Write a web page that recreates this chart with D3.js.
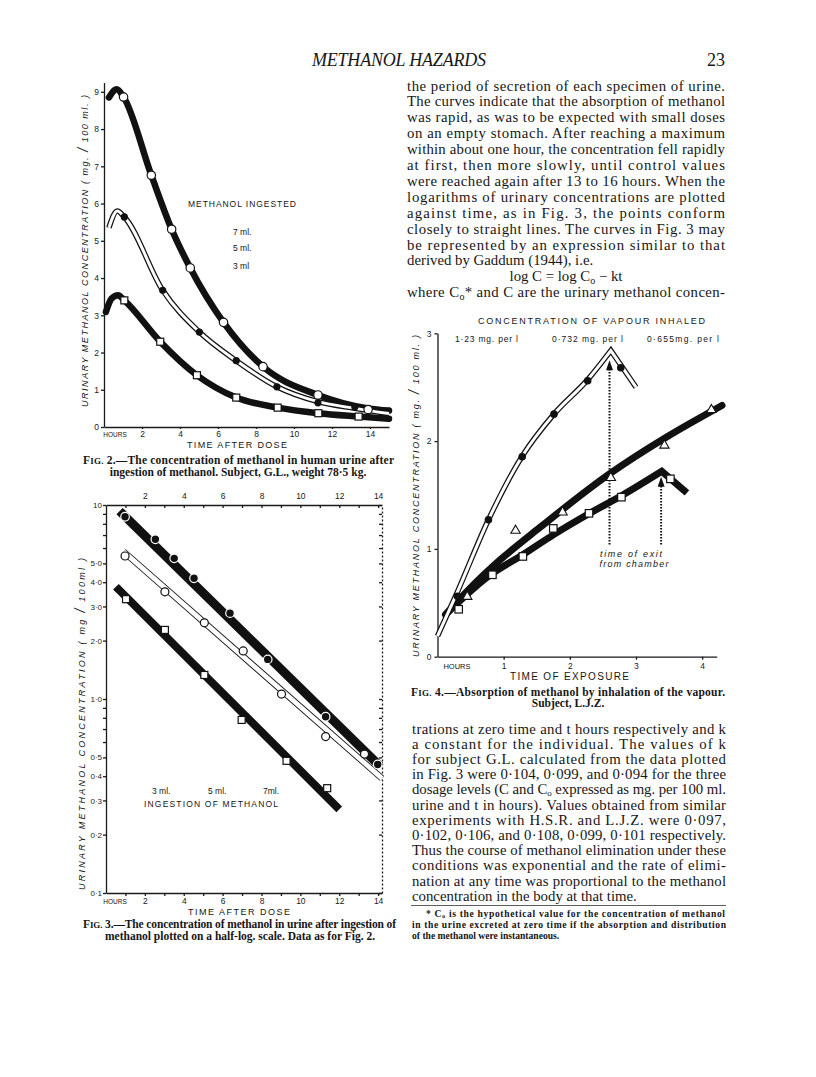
<!DOCTYPE html>
<html>
<head>
<meta charset="utf-8">
<script src="https://cdn.jsdelivr.net/npm/d3@7"></script>
<style>
body{margin:0;background:#fff}
text{fill:#161616}
.serif{font-family:"Liberation Serif","Times New Roman",serif}
.sans{font-family:"Liberation Sans",Arial,sans-serif}
.axis path,.axis line{stroke:#1a1a1a;stroke-width:1.3}
.axis text{font-family:"Liberation Sans",Arial,sans-serif;font-size:8.5px;fill:#1a1a1a}
</style>
</head>
<body>
<svg id="page" width="816" height="1077"></svg>
<script>
// fig 2 - linear scale, concentration mg/100ml vs hours after dose
var fig2Hours7 = [1.03, 2.49, 3.56, 4.54, 6.29, 8.37, 11.26, 13.9]
var fig2Conc7 = [8.86, 6.76, 5.31, 4.27, 2.81, 1.62, 0.86, 0.47]
var fig2Hours5 = [1.07, 3.09, 5.02, 6.96, 9.1, 11.26, 13.2]
var fig2Conc5 = [5.64, 3.67, 2.55, 1.78, 1.08, 0.65, 0.54]
var fig2Hours3 = [1.07, 2.96, 4.89, 6.96, 9.14, 11.28, 13.4]
var fig2Conc3 = [3.40, 2.29, 1.39, 0.79, 0.52, 0.37, 0.28]
// drawn curves
var fig2CurveHours7 = [0.26, 0.67, 1.03, 2.49, 3.56, 4.54, 6.29, 8.37, 11.26, 13.9, 15]
var fig2CurveConc7 = [8.85, 9.07, 8.86, 6.76, 5.31, 4.27, 2.81, 1.62, 0.86, 0.5, 0.44]
var fig2CurveHours5 = [0.26, 0.7, 1.07, 3.09, 5.02, 6.96, 9.1, 11.26, 13.2, 15]
var fig2CurveConc5 = [5.35, 5.8, 5.64, 3.67, 2.55, 1.78, 1.08, 0.68, 0.5, 0.36]
var fig2CurveHours3 = [0.1, 0.4, 0.74, 1.07, 2.96, 4.89, 6.96, 9.14, 11.28, 13.4, 15]
var fig2CurveConc3 = [3.09, 3.45, 3.54, 3.40, 2.29, 1.39, 0.79, 0.52, 0.37, 0.28, 0.22]
var fig2YTicks = [0, 1, 2, 3, 4, 5, 6, 7, 8, 9]
var fig2XTicks = [2, 4, 6, 8, 10, 12, 14]

// fig 3 - half-log
var fig3Hours7 = [0.98, 2.54, 3.51, 4.53, 6.38, 8.32, 11.3, 13.98]
var fig3Conc7 = [8.7, 6.66, 5.31, 4.19, 2.77, 1.60, 0.81, 0.46]
var fig3Hours5 = [0.98, 3.03, 5.06, 7.06, 9.03, 11.3, 13.3]
var fig3Conc5 = [5.46, 3.57, 2.47, 1.77, 1.06, 0.64, 0.52]
var fig3Hours3 = [1.03, 3.03, 5.06, 6.98, 9.29, 11.38]
var fig3Conc3 = [3.27, 2.27, 1.33, 0.78, 0.48, 0.347]
var fig3LineHours7 = [0.7, 14.1]
var fig3LineConc7 = [9.3, 0.45]
var fig3LineHours5 = [0.9, 14.2]
var fig3LineConc5 = [5.75, 0.39]
var fig3LineHours3 = [0.51, 12.0]
var fig3LineConc3 = [3.79, 0.27]
var fig3YLabels = [10, 5, 4, 3, 2, 1, 0.5, 0.4, 0.3, 0.2, 0.1]
var fig3YLabelText = ['10', '5·0', '4·0', '3·0', '2·0', '1·0', '0·5', '0·4', '0·3', '0·2', '0·1']

// fig 4 - inhalation
var fig4Hours123 = [0.30, 0.77, 1.28, 1.76, 2.27, 2.77]
var fig4Conc123 = [0.56, 1.27, 1.855, 2.25, 2.56, 2.68]
var fig4Hours732 = [0.45, 1.18, 1.89, 2.62, 3.43, 4.14]
var fig4Conc732 = [0.557, 1.17, 1.34, 1.66, 1.96, 2.29]
var fig4Hours655 = [0.32, 0.83, 1.29, 1.75, 2.29, 2.78, 3.52]
var fig4Conc655 = [0.44, 0.76, 0.93, 1.19, 1.33, 1.48, 1.65]
var fig4RiseHours123 = [0, 0.3, 0.77, 1.28, 1.76, 2.27, 2.62]
var fig4RiseConc123 = [0.19, 0.6, 1.27, 1.86, 2.25, 2.57, 2.84]
var fig4FallHours123 = [2.62, 3.0]
var fig4FallConc123 = [2.84, 2.5]
var fig4CurveHours732 = [0.12, 0.5, 0.95, 1.55, 2.61, 3.47, 4.3]
var fig4CurveConc732 = [0.39, 0.64, 0.9, 1.2, 1.70, 2.04, 2.33]
var fig4RiseHours655 = [0.12, 0.8, 1.3, 1.75, 2.3, 2.8, 3.39]
var fig4RiseConc655 = [0.39, 0.76, 0.95, 1.13, 1.33, 1.5, 1.72]
var fig4FallHours655 = [3.39, 3.77]
var fig4FallConc655 = [1.72, 1.52]
var fig4ExitHours = [2.6, 3.38]
var fig4ExitFrom = [1.04, 1.04]
var fig4ExitTo = [2.75, 1.67]
var fig4XTicks = [1, 2, 3, 4]
var fig4YTicks = [0, 1, 2, 3]

var topLines = [
    "the period of secretion of each specimen of urine.",
    "The curves indicate that the absorption of methanol",
    "was rapid, as was to be expected with small doses",
    "on an empty stomach.  After reaching a maximum",
    "within about one hour, the concentration fell rapidly",
    "at first, then more slowly, until control values",
    "were reached again after 13 to 16 hours.  When the",
    "logarithms of urinary concentrations are plotted",
    "against time, as in Fig. 3, the points conform",
    "closely to straight lines.  The curves in Fig. 3 may",
    "be represented by an expression similar to that",
    "derived by Gaddum (1944), i.e.",
    "log C = log C_o \u2212 kt",
    "where C_o* and C are the urinary methanol concen-"
]
var bottomLines = [
    "trations at zero time and t hours respectively and k",
    "a constant for the individual.  The values of k",
    "for subject G.L. calculated from the data plotted",
    "in Fig. 3 were 0\u00b7104, 0\u00b7099, and 0\u00b7094 for the three",
    "dosage levels (C and C_o expressed as mg. per 100 ml.",
    "urine and t in hours).   Values obtained from similar",
    "experiments with H.S.R. and L.J.Z. were 0\u00b7097,",
    "0\u00b7102, 0\u00b7106, and 0\u00b7108, 0\u00b7099, 0\u00b7101 respectively.",
    "Thus the course of methanol elimination under these",
    "conditions was exponential and the rate of elimi-",
    "nation at any time was proportional to the methanol",
    "concentration in the body at that time."
]
var footLines = [
    "* C_o is the hypothetical value for the concentration of methanol",
    "in the urine excreted at zero time if the absorption and distribution",
    "of the methanol were instantaneous."
]

var page = d3.select('#page')

function addLine(g, str, x, y, size, width, subSize, drop){
    var t = g.append('text').attr('class', 'serif').attr('x', x).attr('y', y).style('font-size', size + 'px')
    var parts = str.split('_o')
    parts.forEach(function(p, i){
        if(i > 0){
            t.append('tspan').attr('dy', drop).style('font-size', subSize + 'px').text('o')
            t.append('tspan').attr('dy', -drop).text(p)
        }
        else{
            t.append('tspan').text(p)
        }
    })
    if(width){
        t.attr('textLength', width).attr('lengthAdjust', 'spacing')
    }
    return t
}

function caption(num, rest, x, y, width){
    var t = page.append('text').attr('class', 'serif').attr('x', x).attr('y', y)
        .style('font-size', '11.5px').style('font-weight', 'bold')
    t.append('tspan').text('F')
    t.append('tspan').style('font-size', '9px').text('IG.')
    t.append('tspan').text(' ' + num + '.\u2014' + rest)
    if(width) t.attr('textLength', width).attr('lengthAdjust', 'spacing')
}

function sansText(x, y, str, size, len, anchor){
    var t = page.append('text').attr('class', 'sans').attr('x', x).attr('y', y)
        .style('font-size', size + 'px').attr('text-anchor', anchor || 'start').text(str)
    if(len) t.attr('textLength', len).attr('lengthAdjust', 'spacing')
    return t
}

function yTitle(x, cy, len, unit){
    var t = page.append('text').attr('class', 'sans')
        .attr('transform', 'translate(' + x + ',' + cy + ') rotate(-90)')
        .attr('text-anchor', 'middle').style('font-size', '9px').style('font-style', 'italic')
        .attr('textLength', len).attr('lengthAdjust', 'spacing')
    t.append('tspan').text('URINARY   METHANOL   CONCENTRATION   ( ' + unit[0] + ' ')
    t.append('tspan').style('font-size', '14px').text('/')
    t.append('tspan').text(' ' + unit[1] + ' )')
}

function pts(a, b){
    return d3.zip(a, b)
}

function heavyPath(g, d, w){
    return g.append('path').attr('d', d).attr('fill', 'none').attr('stroke', '#111')
        .attr('stroke-width', w).attr('stroke-linecap', 'round').attr('stroke-linejoin', 'round')
}

function doublePath(g, d, outer, inner){
    heavyPath(g, d, outer).attr('stroke-linecap', 'butt').attr('stroke-linejoin', 'miter')
    g.append('path').attr('d', d).attr('fill', 'none').attr('stroke', '#fff')
        .attr('stroke-width', inner).attr('stroke-linejoin', 'miter')
}

function openCircles(g, data, x, y, r){
    g.selectAll(null).data(data).enter().append('circle')
        .attr('cx', function(d){return x(d[0])}).attr('cy', function(d){return y(d[1])})
        .attr('r', r).attr('fill', '#fff').attr('stroke', '#111').attr('stroke-width', 1.2)
}

function dots(g, data, x, y, r, ring){
    g.selectAll(null).data(data).enter().append('circle')
        .attr('cx', function(d){return x(d[0])}).attr('cy', function(d){return y(d[1])})
        .attr('r', r).attr('fill', '#111').attr('stroke', ring ? '#fff' : 'none').attr('stroke-width', 1.2)
}

function squares(g, data, x, y, s){
    g.selectAll(null).data(data).enter().append('rect')
        .attr('x', function(d){return x(d[0]) - s/2}).attr('y', function(d){return y(d[1]) - s/2})
        .attr('width', s).attr('height', s).attr('fill', '#fff').attr('stroke', '#111').attr('stroke-width', 1.2)
}

function triangles(g, data, x, y, size){
    g.selectAll(null).data(data).enter().append('path')
        .attr('d', d3.symbol(d3.symbolTriangle).size(size))
        .attr('transform', function(d){return 'translate(' + x(d[0]) + ',' + y(d[1]) + ')'})
        .attr('fill', '#fff').attr('stroke', '#111').attr('stroke-width', 1.1)
}

// header
page.append('text').attr('class', 'serif').attr('x', 399).attr('y', 66).attr('text-anchor', 'middle')
    .style('font-size', '18px').style('font-style', 'italic').attr('textLength', 174).text('METHANOL HAZARDS')
page.append('text').attr('class', 'serif').attr('x', 725).attr('y', 66).attr('text-anchor', 'end')
    .style('font-size', '18px').text('23')

// right column text
topLines.forEach(function(l, i){
    var y = 90.5 + i * 15.9
    if(i == 12){
        addLine(page, l, 566, y, 14.8, null, 10, 2.5).attr('text-anchor', 'middle')
    }
    else{
        addLine(page, l, 407, y, 14.8, i == 11 ? null : 318, 10, 2.5)
    }
})
bottomLines.forEach(function(l, i){
    addLine(page, l, 412, 733.5 + i * 15.2, 14.8, i == bottomLines.length - 1 ? null : 314, 9, 1.5)
})
page.append('line').attr('x1', 411).attr('x2', 726).attr('y1', 905.5).attr('y2', 905.5).attr('stroke', '#333').attr('stroke-width', 0.8)
footLines.forEach(function(l, i){
    var fx = i == 0 ? 426 : 412
    var w = i == 0 ? 299 : (i == 1 ? 314 : null)
    addLine(page, l, fx, 917 + i * 10.8, 9.6, w, 6.5, 1).style('font-weight', 'bold')
})

// ---------------- FIG 2 ----------------
var x2 = d3.scaleLinear().domain([0, 15]).range([104, 389])
var y2 = d3.scaleLinear().domain([0, 9.25]).range([427, 82.5])
var g2 = page.append('g')
var curve2 = d3.line().x(function(d){return x2(d[0])}).y(function(d){return y2(d[1])}).curve(d3.curveMonotoneX)

g2.append('g').attr('class', 'axis').attr('transform', 'translate(104,0)')
    .call(d3.axisLeft(y2).tickValues(fig2YTicks).tickSize(3).tickSizeOuter(0).tickPadding(2))
g2.append('g').attr('class', 'axis').attr('transform', 'translate(0,427)')
    .call(d3.axisBottom(x2).tickValues(fig2XTicks).tickSize(2).tickSizeOuter(0).tickPadding(2))
sansText(115, 436.5, 'HOURS', 6.5, null, 'middle')
sansText(187, 448, 'TIME   AFTER   DOSE', 9, 100)
yTitle(88, 251, 312, ['mg.', '100 ml.'])

heavyPath(g2, curve2(pts(fig2CurveHours3, fig2CurveConc3)), 6.5)
heavyPath(g2, curve2(pts(fig2CurveHours7, fig2CurveConc7)), 6.5)
doublePath(g2, curve2(pts(fig2CurveHours5, fig2CurveConc5)), 5.5, 3)
openCircles(g2, pts(fig2Hours7, fig2Conc7), x2, y2, 4.2)
dots(g2, pts(fig2Hours5, fig2Conc5), x2, y2, 3.6)
squares(g2, pts(fig2Hours3, fig2Conc3), x2, y2, 7)

sansText(188, 207, 'METHANOL   INGESTED', 8.5, 108)
sansText(233, 235, '7 ml.', 8.5)
sansText(233, 251, '5 ml.', 8.5)
sansText(233, 269, '3 ml', 8.5)

caption(2, 'The concentration of methanol in human urine after', 83, 464, 311)
page.append('text').attr('class', 'serif').attr('x', 238).attr('y', 475.5).attr('text-anchor', 'middle')
    .style('font-size', '11.5px').style('font-weight', 'bold')
    .text('ingestion of methanol.  Subject, G.L., weight 78\u00b75 kg.')

// ---------------- FIG 3 ----------------
var x3 = d3.scaleLinear().domain([0, 14.2]).range([106, 382])
var y3 = d3.scaleLog().domain([0.1, 10]).range([893, 505])
var g3 = page.append('g')
var line3 = d3.line().x(function(d){return x3(d[0])}).y(function(d){return y3(d[1])})
var hourTicks = d3.range(1, 15)

g3.append('g').attr('class', 'axis').attr('transform', 'translate(106,0)')
    .call(d3.axisLeft(y3).tickValues(y3.ticks()).tickFormat('').tickSize(3).tickSizeOuter(0))
var lab3 = g3.append('g').attr('class', 'axis').attr('transform', 'translate(106,0)')
    .call(d3.axisLeft(y3).tickValues(fig3YLabels).tickFormat(function(d, i){return fig3YLabelText[i]}).tickSize(0).tickPadding(4))
lab3.select('.domain').remove()
lab3.selectAll('text').style('font-size', '8px')
g3.append('g').attr('class', 'axis').attr('transform', 'translate(0,893)')
    .call(d3.axisBottom(x3).tickValues(hourTicks).tickFormat(function(d){return d % 2 == 0 ? d : ''}).tickSize(3).tickSizeOuter(0).tickPadding(2))
g3.append('g').attr('class', 'axis').attr('transform', 'translate(0,505)')
    .call(d3.axisTop(x3).tickValues(hourTicks).tickFormat(function(d){return d % 2 == 0 ? d : ''}).tickSize(-3).tickSizeOuter(0).tickPadding(6))
var right3 = g3.append('g').attr('class', 'axis').attr('transform', 'translate(382,0)')
    .call(d3.axisLeft(y3).tickValues(y3.ticks()).tickFormat('').tickSize(3).tickSizeOuter(0))
right3.select('.domain').attr('stroke', '#777').attr('stroke-dasharray', '2,2').attr('stroke-width', 0.8)
sansText(115, 903.5, 'HOURS', 6.5, null, 'middle')
sansText(188, 914.5, 'TIME   AFTER   DOSE', 9, 102)
yTitle(85, 724, 332, ['mg', '100ml'])

heavyPath(g3, line3(pts(fig3LineHours7, fig3LineConc7)), 9).attr('stroke-linecap', 'butt')
heavyPath(g3, line3(pts(fig3LineHours3, fig3LineConc3)), 8).attr('stroke-linecap', 'butt')
doublePath(g3, line3(pts(fig3LineHours5, fig3LineConc5)), 6.5, 4.8)
dots(g3, pts(fig3Hours7, fig3Conc7), x3, y3, 4.3, true)
openCircles(g3, pts(fig3Hours5, fig3Conc5), x3, y3, 4)
squares(g3, pts(fig3Hours3, fig3Conc3), x3, y3, 7)

sansText(152, 794, '3 ml.', 8.5)
sansText(208, 794, '5 ml.', 8.5)
sansText(263, 794, '7ml.', 8.5)
sansText(144, 807, 'INGESTION   OF   METHANOL', 8.5, 134)

caption(3, 'The concentration of methanol in urine after ingestion of', 83, 928, 313)
page.append('text').attr('class', 'serif').attr('x', 240).attr('y', 939.5).attr('text-anchor', 'middle')
    .style('font-size', '11.5px').style('font-weight', 'bold')
    .text('methanol plotted on a half-log. scale.  Data as for Fig. 2.')

// ---------------- FIG 4 ----------------
var x4 = d3.scaleLinear().domain([0, 4.22]).range([437.5, 716.7])
var y4 = d3.scaleLinear().domain([0, 3]).range([656.7, 333.3])
var g4 = page.append('g')
var curve4 = d3.line().x(function(d){return x4(d[0])}).y(function(d){return y4(d[1])}).curve(d3.curveMonotoneX)
var line4 = d3.line().x(function(d){return x4(d[0])}).y(function(d){return y4(d[1])})

g4.append('g').attr('class', 'axis').attr('transform', 'translate(437.5,0)')
    .call(d3.axisLeft(y4).tickValues(fig4YTicks).tickFormat(d3.format('d')).tickSize(3).tickSizeOuter(0).tickPadding(3))
g4.append('g').attr('class', 'axis').attr('transform', 'translate(0,656.7)')
    .call(d3.axisBottom(x4).tickValues(fig4XTicks).tickFormat(d3.format('d')).tickSize(3).tickSizeOuter(0).tickPadding(3))
sansText(457, 669, 'HOURS', 7.5, null, 'middle')
sansText(510, 679.5, 'TIME   OF   EXPOSURE', 10, 119)
yTitle(419, 496, 322, ['mg.', '100 ml.'])

sansText(478, 323.5, 'CONCENTRATION   OF   VAPOUR   INHALED', 9, 227)
sansText(455, 342, '1\u00b723 mg. per l', 8.5, 63)
sansText(552, 342, '0\u00b7732 mg. per l', 8.5, 71)
sansText(647, 342, '0\u00b7655mg. per l', 8.5, 72)

var rise123 = curve4(pts(fig4RiseHours123, fig4RiseConc123)) + line4(pts(fig4FallHours123, fig4FallConc123)).replace('M', 'L')
var rise655 = curve4(pts(fig4RiseHours655, fig4RiseConc655)) + line4(pts(fig4FallHours655, fig4FallConc655)).replace('M', 'L')
heavyPath(g4, curve4(pts(fig4CurveHours732, fig4CurveConc732)), 7)
heavyPath(g4, rise655, 7).attr('stroke-linejoin', 'miter').attr('stroke-linecap', 'butt')
doublePath(g4, rise123, 5.5, 3)

// exit arrows
fig4ExitHours.forEach(function(h, i){
    var ax = x4(h)
    var top = y4(fig4ExitTo[i])
    g4.append('line').attr('x1', ax).attr('x2', ax)
        .attr('y1', y4(fig4ExitFrom[i])).attr('y2', top + 8)
        .attr('stroke', '#111').attr('stroke-width', 2).attr('stroke-dasharray', '1.6,1.4')
    g4.append('path').attr('d', 'M' + (ax - 3.5) + ',' + (top + 10) + ' L' + ax + ',' + top + ' L' + (ax + 3.5) + ',' + (top + 10) + 'Z')
        .attr('fill', '#111')
})

dots(g4, pts(fig4Hours123, fig4Conc123), x4, y4, 3.8)
triangles(g4, pts(fig4Hours732, fig4Conc732), x4, y4, 38)
squares(g4, pts(fig4Hours655, fig4Conc655), x4, y4, 7.5)

sansText(631, 556.5, 'time of exit', 9, 62, 'middle').style('font-style', 'italic')
sansText(634, 566.5, 'from chamber', 9, 69, 'middle').style('font-style', 'italic')

caption(4, 'Absorption of methanol by inhalation of the vapour.', 411, 695.5, 314)
page.append('text').attr('class', 'serif').attr('x', 568).attr('y', 707).attr('text-anchor', 'middle')
    .style('font-size', '11.5px').style('font-weight', 'bold').text('Subject, L.J.Z.')
</script>
</body>
</html>
